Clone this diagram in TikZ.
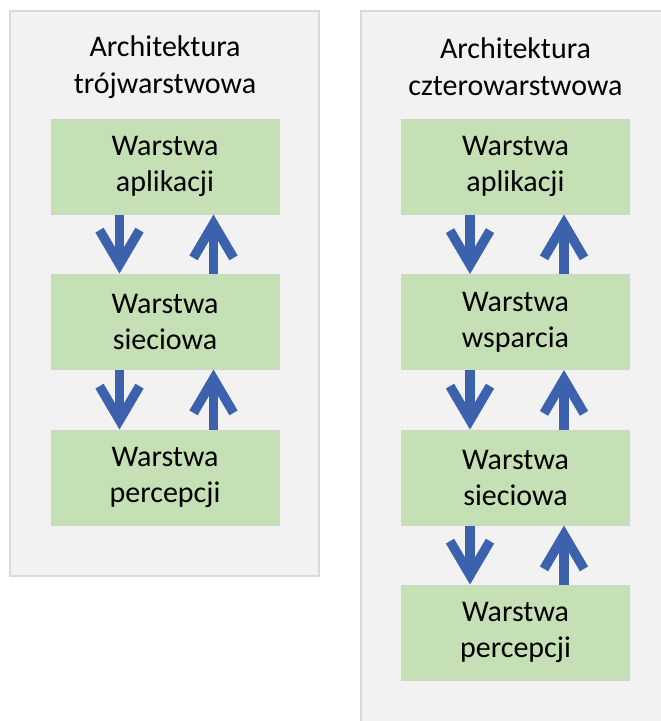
\documentclass[tikz,border=0pt]{standalone}
\usepackage{fontspec}
\setmainfont{Carlito}
\usetikzlibrary{arrows.meta}
\definecolor{panelfill}{HTML}{F2F2F2}
\definecolor{panelline}{HTML}{D9D9D9}
\definecolor{layerfill}{HTML}{C5E0B4}
\definecolor{layerline}{HTML}{CFD6C8}
\definecolor{flowblue}{HTML}{3D62AD}
\begin{document}
\begin{tikzpicture}[x=1pt,y=-1pt,
  panel/.style={draw=panelline, fill=panelfill, line width=1.3pt},
  layer/.style={draw=layerline, fill=layerfill, line width=1pt,
    minimum width=228pt, minimum height=95pt, inner sep=0pt,
    align=center, font=\fontsize{30}{36}\selectfont},
  caption/.style={align=center, font=\fontsize{30}{37}\selectfont},
  flow/.style={draw=flowblue, line width=9.5pt,
    -{Straight Barb[length=34pt, width=40pt, line cap=butt, line join=miter]}}
]
\useasboundingbox (0,0) rectangle (661,721);

% background panels (the right one runs past the page edge)
\begin{scope}
  \clip (0,0) rectangle (661,721);
  \draw[panel] (10,11) rectangle (319,576);
  \draw[panel] (361,11) rectangle (690,750);
\end{scope}

% three-layer architecture
\node[caption] (t3) at (165,67) {Architektura\\trójwarstwowa};
\node[layer] (a1) at (165,166.5) {Warstwa\\aplikacji};
\node[layer] (a2) at (165,321.5) {Warstwa\\sieciowa};
\node[layer] (a3) at (165,477.5) {Warstwa\\percepcji};

% four-layer architecture
\node[caption] (t4) at (515.5,67) {Architektura\\czterowarstwowa};
\node[layer] (b1) at (515.5,166.5) {Warstwa\\aplikacji};
\node[layer] (b2) at (515.5,322) {Warstwa\\wsparcia};
\node[layer] (b3) at (515.5,477.5) {Warstwa\\sieciowa};
\node[layer] (b4) at (515.5,632.5) {Warstwa\\percepcji};

% data flow between neighbouring layers
\foreach \u/\l in {a1/a2, a2/a3, b1/b2, b2/b3, b3/b4} {
  \draw[flow] ([xshift=-45.5pt]\u.south) -- ([xshift=-45.5pt]\l.north);
  \draw[flow] ([xshift=48.5pt]\l.north) -- ([xshift=48.5pt]\u.south);
}
\end{tikzpicture}
\end{document}
